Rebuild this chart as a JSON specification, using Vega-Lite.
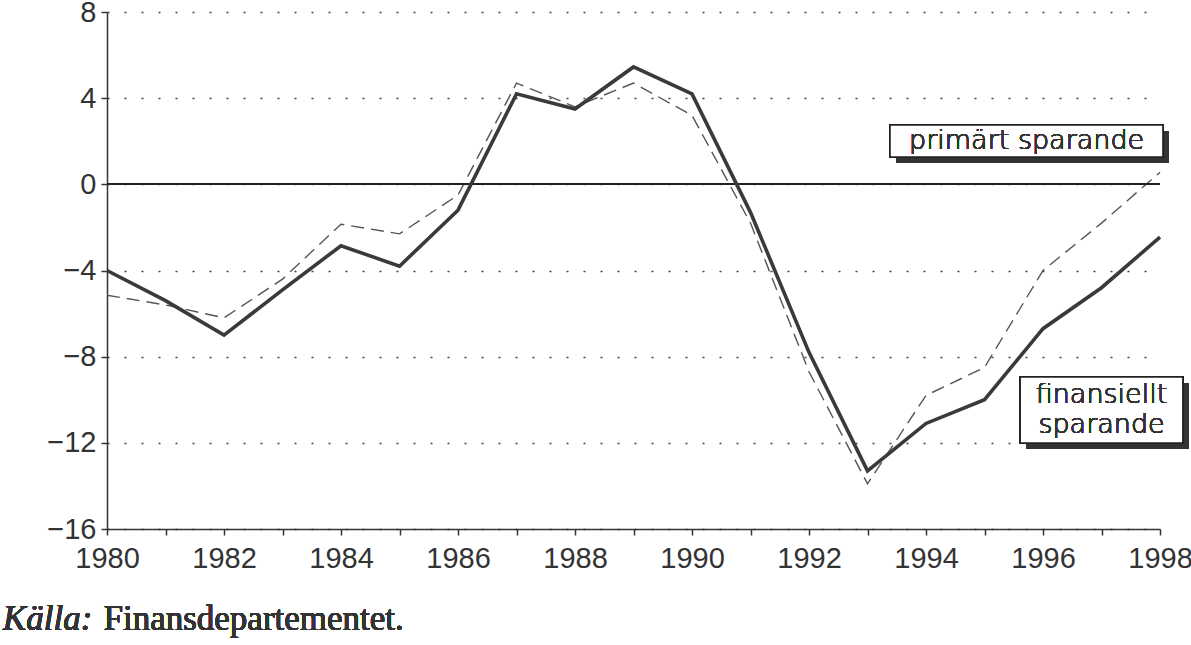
{
  "$schema": "https://vega.github.io/schema/vega-lite/v6.json",
  "width": 1053,
  "height": 517,
  "autosize": "none",
  "padding": {"left": 107, "top": 12, "right": 31, "bottom": 116},
  "background": "white",
  "config": {
    "view": {"stroke": null},
    "axis": {
      "labelFont": "Liberation Sans",
      "labelFontSize": 29,
      "labelColor": "#333",
      "domainColor": "#333",
      "domainWidth": 1.5,
      "tickColor": "#333",
      "tickWidth": 1.5,
      "tickSize": 6,
      "titleFontSize": 0
    }
  },
  "data": {
    "values": [
      {"year": 1980, "fin": -4.0, "prim": -5.15},
      {"year": 1981, "fin": -5.4, "prim": -5.6},
      {"year": 1982, "fin": -7.0, "prim": -6.2},
      {"year": 1983, "fin": -4.9, "prim": -4.4},
      {"year": 1984, "fin": -2.85, "prim": -1.85},
      {"year": 1985, "fin": -3.8, "prim": -2.3},
      {"year": 1986, "fin": -1.2, "prim": -0.5},
      {"year": 1987, "fin": 4.2, "prim": 4.7},
      {"year": 1988, "fin": 3.5, "prim": 3.6},
      {"year": 1989, "fin": 5.45, "prim": 4.7},
      {"year": 1990, "fin": 4.2, "prim": 3.2},
      {"year": 1991, "fin": -1.3, "prim": -1.8},
      {"year": 1992, "fin": -7.8, "prim": -8.7},
      {"year": 1993, "fin": -13.3, "prim": -13.9},
      {"year": 1994, "fin": -11.1, "prim": -9.8},
      {"year": 1995, "fin": -10.0, "prim": -8.5},
      {"year": 1996, "fin": -6.7, "prim": -4.0},
      {"year": 1997, "fin": -4.8, "prim": -1.8},
      {"year": 1998, "fin": -2.45, "prim": 0.56}
    ]
  },
  "layer": [
    {
      "mark": {"type": "line", "color": "#555", "strokeWidth": 1.4, "strokeDash": [13, 7], "clip": false},
      "encoding": {
        "x": {
          "field": "year", "type": "quantitative",
          "scale": {"domain": [1980, 1998], "nice": false, "zero": false},
          "axis": {
            "title": null,
            "values": [1980,1981,1982,1983,1984,1985,1986,1987,1988,1989,1990,1991,1992,1993,1994,1995,1996,1997,1998],
            "labelExpr": "datum.value % 2 == 0 ? datum.value : ''",
            "labelPadding": 9,
            "labelFlush": false,
            "labelOverlap": false,
            "grid": false
          }
        },
        "y": {
          "field": "prim", "type": "quantitative",
          "scale": {"domain": [-16, 8], "nice": false, "zero": false},
          "axis": {
            "title": null,
            "values": [-16, -12, -8, -4, 0, 4, 8],
            "labelPadding": 5,
            "labelBaseline": "middle",
            "grid": true,
            "gridDash": [2, 15],
            "gridColor": "#444",
            "gridWidth": 1.6
          }
        }
      }
    },
    {
      "mark": {"type": "rule", "color": "#222", "strokeWidth": 1.5},
      "encoding": {"y": {"datum": 0}}
    },
    {
      "mark": {"type": "line", "color": "#3a3a3a", "strokeWidth": 3.6, "strokeJoin": "miter", "clip": false},
      "encoding": {
        "x": {"field": "year", "type": "quantitative"},
        "y": {"field": "fin", "type": "quantitative"}
      }
    },
    {
      "mark": {"type": "rect", "fill": "#333", "xOffset": 6, "x2Offset": 6, "yOffset": 6, "y2Offset": 6, "clip": false},
      "encoding": {
        "x": {"datum": 1993.385}, "x2": {"datum": 1998.05},
        "y": {"datum": 2.75}, "y2": {"datum": 1.27}
      }
    },
    {
      "mark": {"type": "rect", "fill": "white", "stroke": "#222", "strokeWidth": 1.5, "clip": false},
      "encoding": {
        "x": {"datum": 1993.385}, "x2": {"datum": 1998.05},
        "y": {"datum": 2.75}, "y2": {"datum": 1.27}
      }
    },
    {
      "mark": {"type": "text", "font": "DejaVu Sans", "fontSize": 27, "fontWeight": 300, "fill": "#333", "align": "center", "baseline": "alphabetic", "clip": false},
      "encoding": {
        "x": {"datum": 1995.72}, "y": {"datum": 1.64},
        "text": {"value": "primärt sparande"}
      }
    },
    {
      "mark": {"type": "rect", "fill": "#333", "xOffset": 6, "x2Offset": 6, "yOffset": 6, "y2Offset": 6, "clip": false},
      "encoding": {
        "x": {"datum": 1995.61}, "x2": {"datum": 1998.39},
        "y": {"datum": -8.94}, "y2": {"datum": -12.01}
      }
    },
    {
      "mark": {"type": "rect", "fill": "white", "stroke": "#222", "strokeWidth": 1.5, "clip": false},
      "encoding": {
        "x": {"datum": 1995.61}, "x2": {"datum": 1998.39},
        "y": {"datum": -8.94}, "y2": {"datum": -12.01}
      }
    },
    {
      "mark": {"type": "text", "font": "DejaVu Sans", "fontSize": 27, "fontWeight": 300, "fill": "#333", "align": "center", "baseline": "alphabetic", "lineHeight": 30, "clip": false},
      "encoding": {
        "x": {"datum": 1997.0}, "y": {"datum": -10.15},
        "text": {"value": ["finansiellt", "sparande"]}
      }
    },
    {
      "mark": {"type": "text", "font": "Liberation Serif", "fontStyle": "italic", "fontWeight": "normal", "fontSize": 35, "fill": "#333", "align": "left", "baseline": "alphabetic", "clip": false},
      "encoding": {
        "x": {"datum": 1978.22}, "y": {"datum": -20.69},
        "text": {"value": "Källa:"}
      }
    },
    {
      "mark": {"type": "text", "font": "Liberation Serif", "fontWeight": "normal", "fontSize": 35, "fill": "#333", "align": "left", "baseline": "alphabetic", "clip": false},
      "encoding": {
        "x": {"datum": 1979.94}, "y": {"datum": -20.69},
        "text": {"value": "Finansdepartementet."}
      }
    }
  ]
}
